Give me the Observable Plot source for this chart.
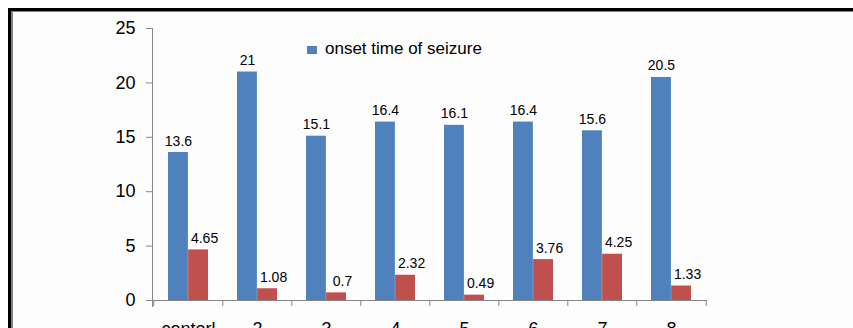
<!DOCTYPE html>
<html>
<head>
<meta charset="utf-8">
<script src="https://cdn.jsdelivr.net/npm/d3@7"></script>
<script src="https://cdn.jsdelivr.net/npm/@observablehq/plot@0.6"></script>
<style>
  html, body { margin: 0; padding: 0; background: #ffffff; overflow: hidden; }
  body { width: 853px; height: 328px; position: relative; font-family: "Liberation Sans", Arial, sans-serif; }
  #frame { position: absolute; left: 8px; top: 8px; width: 900px; height: 400px;
           border-top: 3px solid #000; border-left: 3px solid #000; }
  #inner { position: absolute; left: 0; top: 0; right: 0; bottom: 0; background: #fdfdfd;
           border-top: 1px solid #808080; border-left: 2px solid #808080; }
  #chart { position: absolute; left: 0; top: 0; }
  #legend { position: absolute; left: 307px; top: 40px; font-size: 17px; line-height: 17px; color: #000; white-space: nowrap; }
  #legend .sw { position: absolute; left: 0; top: 6px; width: 10px; height: 8px; background: #4F81BD; }
  #legend .lb { position: absolute; left: 18px; top: 0; }
</style>
</head>
<body>
<div id="frame"><div id="inner"></div></div>
<div id="chart"></div>
<div id="legend"><span class="sw"></span><span class="lb">onset time of seizure</span></div>
<script>
const categories = ["conterl", "2", "3", "4", "5", "6", "7", "8"];
const onsetTime = [13.6, 21, 15.1, 16.4, 16.1, 16.4, 15.6, 20.5];
const secondSeries = [4.65, 1.08, 0.7, 2.32, 0.49, 3.76, 4.25, 1.33];
const yTicks = [0, 5, 10, 15, 20, 25];

const table = categories.map((c, i) => ({cat: c, onset: onsetTime[i], second: secondSeries[i]}));

const W = 853, H = 340, ML = 152, MR = 146, MT = 28, MB = 40;
const padIn = 0.42, padOut = 0.21;
const step = (W - ML - MR) / (categories.length - padIn + 2 * padOut);
const bw = step * (1 - padIn);
const axisGray = "#868686";
const font = "'Liberation Sans', Arial, sans-serif";

const chart = Plot.plot({
  width: W, height: H,
  marginLeft: ML, marginRight: MR, marginTop: MT, marginBottom: MB,
  style: {background: "transparent", fontFamily: font, overflow: "visible"},
  x: {domain: categories, paddingInner: padIn, paddingOuter: padOut, axis: null},
  y: {domain: [0, 25], axis: null},
  marks: [
    Plot.frame({anchor: "left", stroke: axisGray, insetBottom: -6}),
    Plot.axisY({ticks: yTicks, tickSize: 6, tickPadding: 11, fontSize: 18, stroke: axisGray, fill: "#000", tickFormat: d => String(d), label: null}),
    Plot.ruleY([0], {stroke: axisGray}),
    Plot.ruleX(categories, {x: d => d, dx: -step / 2, y1: 0, y2: -0.55, stroke: axisGray}),
    Plot.ruleX(categories.slice(-1), {x: d => d, dx: step / 2, y1: 0, y2: -0.55, stroke: axisGray}),
    Plot.axisX({tickSize: 0, tickPadding: 22, fontSize: 18, fill: "#000", label: null}),
    Plot.barY(table, {x: "cat", y: "onset", fill: "#4F81BD", insetRight: bw / 2}),
    Plot.barY(table, {x: "cat", y: "second", fill: "#C0504D", insetLeft: bw / 2}),
    Plot.text(table, {x: "cat", y: "onset", text: d => String(d.onset), dx: -bw / 4, dy: -7,
      lineAnchor: "bottom", fontSize: 14, fill: "#000"}),
    Plot.text(table, {x: "cat", y: "second", text: d => String(d.second), dx: bw / 4 + 6, dy: -7,
      lineAnchor: "bottom", fontSize: 14, fill: "#000"})
  ]
});
document.getElementById("chart").appendChild(chart);
</script>
</body>
</html>
